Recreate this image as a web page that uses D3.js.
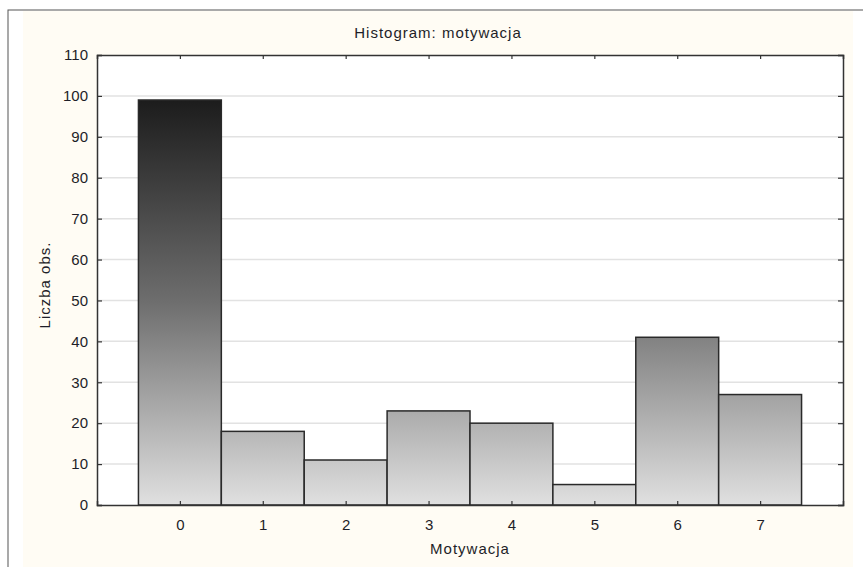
<!DOCTYPE html>
<html><head><meta charset="utf-8">
<script src="https://cdn.jsdelivr.net/npm/d3@7"></script>
<style>html,body{margin:0;padding:0;background:#fff;}svg{display:block;}</style>
</head><body>
<script>
const categories = [0, 1, 2, 3, 4, 5, 6, 7];
const counts = [99, 18, 11, 23, 20, 5, 41, 27];
const yTicks = [0, 10, 20, 30, 40, 50, 60, 70, 80, 90, 100, 110];
const chartTitle = "Histogram: motywacja";
const xTitle = "Motywacja";
const yTitle = "Liczba obs.";

(function () {
const W = 863, H = 567;
const m = {left: 97, top: 55, right: 843, bottom: 505};
const svg = d3.select("body").append("svg").attr("width", W).attr("height", H);

// outer frame and cream background
svg.append("rect").attr("x", 8).attr("y", 10).attr("width", W).attr("height", H).attr("fill", "#fff").attr("stroke", "#555").attr("stroke-width", 1);
svg.append("rect").attr("x", 23).attr("y", 11).attr("width", 830).attr("height", H).attr("fill", "#fffcf4");

const x = d3.scaleLinear().domain([-1, 8]).range([m.left, m.right]);
const y = d3.scaleLinear().domain([0, 110]).range([m.bottom, m.top]);

const defs = svg.append("defs");
const grad = defs.append("linearGradient").attr("id", "g").attr("gradientUnits", "userSpaceOnUse")
  .attr("x1", 0).attr("x2", 0).attr("y1", y(99)).attr("y2", y(0));
grad.append("stop").attr("offset", "0%").attr("stop-color", "#1c1c1c");
grad.append("stop").attr("offset", "50%").attr("stop-color", "#6e6e6e");
grad.append("stop").attr("offset", "100%").attr("stop-color", "#e0e0e0");

// plot bg
svg.append("rect").attr("x", m.left).attr("y", m.top).attr("width", m.right - m.left).attr("height", m.bottom - m.top).attr("fill", "#fff");

// gridlines
svg.append("g").selectAll("line").data(yTicks.filter(d => d > 0 && d < 110)).join("line")
  .attr("x1", m.left).attr("x2", m.right).attr("y1", d => y(d)).attr("y2", d => y(d))
  .attr("stroke", "#e2e2e2").attr("stroke-width", 1.5);

// bars
svg.append("g").selectAll("rect").data(categories).join("rect")
  .attr("x", (d) => x(d - 0.5)).attr("width", (d) => x(d + 0.5) - x(d - 0.5))
  .attr("y", (d, i) => y(counts[i])).attr("height", (d, i) => y(0) - y(counts[i]))
  .attr("fill", "url(#g)").attr("stroke", "#2a2a2a").attr("stroke-width", 1.5);

// axes
const fnt = "'Liberation Sans', Arial, sans-serif";
const gLeft = svg.append("g").attr("transform", `translate(${m.left},0)`)
  .call(d3.axisLeft(y).tickValues(yTicks).tickSize(-5).tickPadding(9));
const gRight = svg.append("g").attr("transform", `translate(${m.right},0)`)
  .call(d3.axisRight(y).tickValues(yTicks).tickSize(-5).tickFormat(""));
const gBottom = svg.append("g").attr("transform", `translate(0,${m.bottom})`)
  .call(d3.axisBottom(x).tickValues(categories).tickSize(-4).tickPadding(14).tickFormat(d3.format("d")));
const gTop = svg.append("g").attr("transform", `translate(0,${m.top})`)
  .call(d3.axisTop(x).tickValues(categories).tickSize(-4).tickFormat(""));
[gLeft, gRight, gBottom, gTop].forEach(g => {
  g.select(".domain").attr("stroke", "#333").attr("stroke-width", 1.5);
  g.selectAll(".tick line").attr("stroke", "#333").attr("stroke-width", 1.2);
  g.selectAll(".tick text").attr("fill", "#1e1e28").style("font-family", fnt).style("font-size", "15px");
});

svg.append("text").attr("x", 438).attr("y", 38).attr("text-anchor", "middle")
  .style("font-family", fnt).style("font-size", "15px").style("letter-spacing", "1px").attr("fill", "#1e1e28").text(chartTitle);
svg.append("text").attr("x", (m.left + m.right) / 2).attr("y", 554).attr("text-anchor", "middle")
  .style("font-family", fnt).style("font-size", "15px").style("letter-spacing", "1px").attr("fill", "#1e1e28").text(xTitle);
svg.append("text").attr("transform", `translate(50,285) rotate(-90)`).attr("text-anchor", "middle")
  .style("font-family", fnt).style("font-size", "15px").style("letter-spacing", "1px").attr("fill", "#1e1e28").text(yTitle);
})();
</script>
</body></html>
